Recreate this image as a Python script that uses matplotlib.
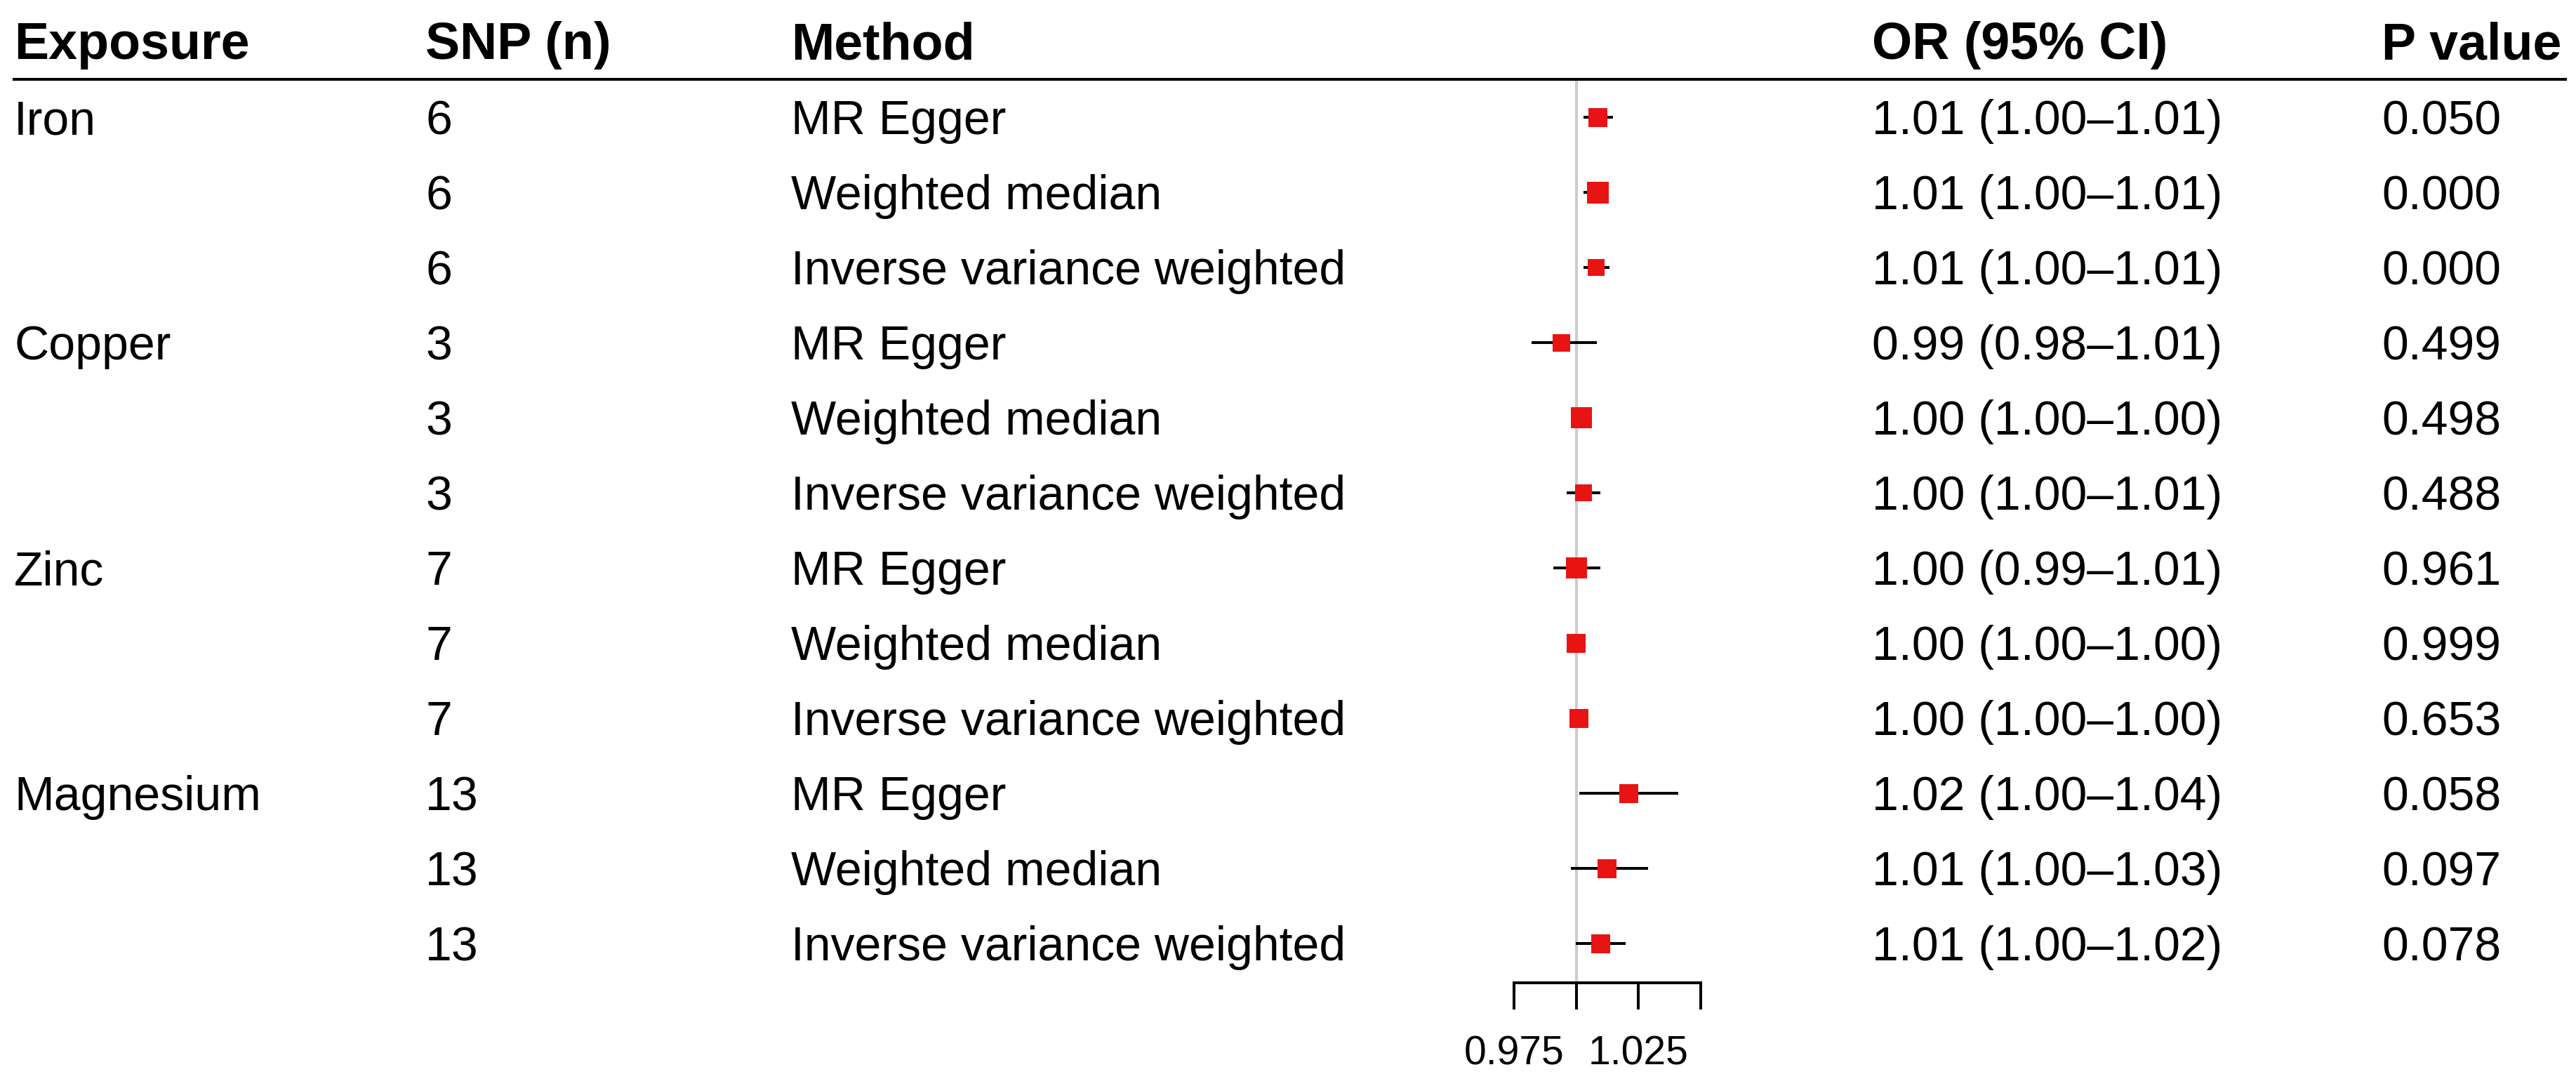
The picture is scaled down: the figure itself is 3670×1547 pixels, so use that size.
import numpy as np
import matplotlib
matplotlib.use("Agg")
from matplotlib import pyplot as plt
from matplotlib import transforms
from matplotlib.lines import Line2D

plt.rcParams['font.family'] = ['Liberation Sans', 'DejaVu Sans']

# table columns
exposures = ["Iron", "Copper", "Zinc", "Magnesium"]
snp_counts = [6, 3, 7, 13]
methods = ["MR Egger", "Weighted median", "Inverse variance weighted"]

# odds ratios per row (exposure x method)
or_point = [1.0087, 1.0087, 1.0079, 0.9941, 1.0020, 1.0028,
            1.0000, 1.0000, 1.0011, 1.0211, 1.0124, 1.0099]
or_low = [1.0028, 1.0030, 1.0028, 0.9820, 1.0000, 0.9961,
          0.9907, 0.9980, 0.9990, 1.0011, 0.9977, 0.9997]
or_high = [1.0147, 1.0130, 1.0133, 1.0082, 1.0040, 1.0096,
           1.0096, 1.0020, 1.0030, 1.0409, 1.0288, 1.0197]
or_labels = ["1.01 (1.00\u20131.01)", "1.01 (1.00\u20131.01)", "1.01 (1.00\u20131.01)",
             "0.99 (0.98\u20131.01)", "1.00 (1.00\u20131.00)", "1.00 (1.00\u20131.01)",
             "1.00 (0.99\u20131.01)", "1.00 (1.00\u20131.00)", "1.00 (1.00\u20131.00)",
             "1.02 (1.00\u20131.04)", "1.01 (1.00\u20131.03)", "1.01 (1.00\u20131.02)"]
p_values = ["0.050", "0.000", "0.000", "0.499", "0.498", "0.488",
            "0.961", "0.999", "0.653", "0.058", "0.097", "0.078"]

x_ticks = [0.975, 1.0, 1.025, 1.05]
x_ticklabels = ["0.975", "", "1.025", ""]

# box size (pixels) for each row
box_px = [27, 31, 24, 25, 30, 24, 30, 27, 27, 27, 27, 27]

# layout in pixels
W, H = 3670, 1547
row_h = 107
first_row = 167
head_line = 113
axis_line = 1400
lw = 2.9
pt = 0.72  # points per pixel at dpi 100

n = len(or_point)
rows = np.arange(1, n + 1)

fig = plt.figure(figsize=(W / 100, H / 100), dpi=100)
ax = fig.add_axes([2157 / W, 1 - axis_line / H, (2423 - 2157) / W, (axis_line - head_line) / H])
ax.set_xlim(x_ticks[0], x_ticks[-1])
y_top = 1 - (first_row - head_line) / row_h
y_bot = 1 + (axis_line - first_row) / row_h
ax.set_ylim(y_bot, y_top)

ax.axvline(1.0, color='#cccccc', lw=lw, zorder=1)
ax.hlines(rows, or_low, or_high, color='black', lw=lw, zorder=2, clip_on=False)
ax.scatter(or_point, rows, marker='s', s=(np.array(box_px) * pt) ** 2,
           color='#e81414', linewidths=0, zorder=3, clip_on=False)

for side in ['top', 'left', 'right']:
    ax.spines[side].set_visible(False)
ax.spines['bottom'].set_linewidth(lw)
ax.set_yticks([])
ax.set_xticks(x_ticks)
ax.set_xticklabels(x_ticklabels)
ax.tick_params(axis='x', length=38 * pt, width=lw, pad=26, labelsize=41)

# table text, x in figure fraction, y on the forest rows
tr = transforms.blended_transform_factory(fig.transFigure, ax.transData)
col_x = [20, 606, 1127, 2667, 3393]
headers = ["Exposure", "SNP (n)", "Method", "OR (95% CI)", "P value"]
base = 0.225

for x, h in zip(col_x, headers):
    fig.text(x / W, 0 + base, h, transform=tr, fontsize=53, fontweight='bold', va='baseline')

fig.add_artist(Line2D([20 / W, 3655 / W], [y_top, y_top], transform=tr, color='black', lw=lw))

body = dict(transform=tr, fontsize=49, va='baseline')
for g, (name, k) in enumerate(zip(exposures, snp_counts)):
    for m, meth in enumerate(methods):
        i = g * len(methods) + m
        y = rows[i] + base
        if m == 0:
            fig.text(col_x[0] / W, y, name, **body)
        fig.text(col_x[1] / W, y, str(k), **body)
        fig.text(col_x[2] / W, y, meth, **body)
        fig.text(col_x[3] / W, y, or_labels[i], **body)
        fig.text(col_x[4] / W, y, p_values[i], **body)

fig.savefig('out.png', dpi=100)
